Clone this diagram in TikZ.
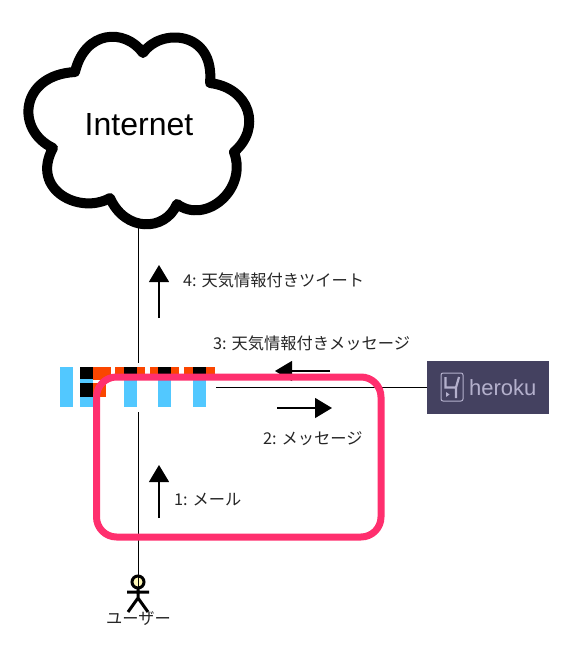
\documentclass[tikz,border=0pt]{standalone}
\usepackage{fontspec}
\setmainfont{Liberation Sans}
\newfontfamily\jpfont{Noto Sans CJK JP}
\usetikzlibrary{arrows.meta}
\definecolor{barblue}{HTML}{52C8FF}
\definecolor{barorange}{HTML}{FA4600}
\definecolor{framepink}{HTML}{FF2F6E}
\definecolor{herokubg}{HTML}{444160}
\definecolor{herokufg}{HTML}{B4B0CC}
\definecolor{headfill}{HTML}{FFF8B8}
\tikzset{
  msg/.style={font=\jpfont\fontsize{16.25}{18}\selectfont,inner sep=0pt,text=black!85},
  flow/.style={-{Triangle[width=20pt,length=17pt]},line width=1.2pt},
  wire/.style={line width=1pt,black}
}
\begin{document}
\begin{tikzpicture}[x=1pt,y=-1pt]
  \useasboundingbox (0,0) rectangle (575,647);
  % 雲
  \draw[line width=10pt,fill=white,line join=round]
    (143,53) .. controls (160,28) and (215,30) .. (210,83)
    .. controls (250,88) and (262,128) .. (234,152)
    .. controls (248,190) and (205,225) .. (177,204)
    .. controls (165,232) and (125,232) .. (110,198)
    .. controls (80,215) and (30,190) .. (53,148)
    .. controls (15,130) and (20,75) .. (75,72)
    .. controls (85,30) and (125,28) .. (143,53) -- cycle;
  \node[font=\fontsize{32}{36}\selectfont,inner sep=0pt,text=black] (net) at (139,125) {Internet};
  \coordinate (netbottom) at (138,226);
  % ユーザー
  \coordinate (userhead) at (138,582);
  \draw[line width=3pt] (138,588) -- (138,598) (127,592) -- (149,592)
    (128,612) -- (138,598) -- (148,612);
  \draw[line width=3pt,fill=headfill] (userhead) circle (6);
  \node[msg] (user) at (138.5,619) {ユーザー};
  % 中央のボット
  \node[fill=white,minimum width=161pt,minimum height=49pt,inner sep=0pt] (bot) at (135.5,387.5) {};
  \draw[wire] (netbottom) -- (netbottom |- bot.north);
  \draw[wire] (netbottom |- bot.south) -- ([yshift=-6pt]userhead);
  \foreach \x in {60,80,124,158,193}
    \fill[barblue] (\x,367) rectangle ++(13,40);
  \foreach \x/\w/\y/\h/\c in {80/13/367/12/black,80/13/383/14/black,
      93/18/367/13/barorange,93/13/383/14/barorange,
      115/9/367/13/barorange,124/13/367/13/black,137/8/367/13/barorange,
      150/8/367/13/barorange,158/13/367/13/black,171/8/367/13/barorange,
      184/9/367/13/barorange,193/13/367/13/black,206/9/367/13/barorange}
    \fill[\c] (\x,\y) rectangle ++(\w,\h);
  % heroku
  \node[fill=herokubg,minimum width=122pt,minimum height=53pt,inner sep=0pt] (heroku) at (488,387.5) {};
  \draw[herokufg,line width=1pt,rounded corners=2pt] (441,373) rectangle (463,401);
  \draw[herokufg,line width=2.2pt] (445.5,377) -- (445.5,387.5) -- (456,387.5) -- (456,398)
    (459,377) -- (456,387.5);
  \fill[herokufg] (446,392) -- (446,397) -- (449.5,394.5) -- cycle;
  \node[font=\fontsize{22}{24}\selectfont,text=herokufg,inner sep=0pt,anchor=west] (herokulabel) at (469,388) {heroku};
  \draw[wire] (bot.east) -- (heroku.west);
  % 矢印
  \coordinate (up1a) at (159,518); \coordinate (up1b) at (159,465);
  \coordinate (up4a) at (159,318); \coordinate (up4b) at (159,265);
  \coordinate (side2a) at (277,408); \coordinate (side2b) at (332,408);
  \coordinate (side3a) at (330,371); \coordinate (side3b) at (275,371);
  \foreach \a/\b in {up1a/up1b,up4a/up4b,side2a/side2b,side3a/side3b}
    \draw[flow] (\a) -- (\b);
  % 枠
  \draw[framepink,line width=7pt,rounded corners=20pt] (96.5,377) rectangle (381,537);
  \node[msg,anchor=west] (lab1) at (174,500) {1: メール};
  \node[msg,anchor=west] (lab2) at (263,439) {2: メッセージ};
  \node[msg,anchor=west] (lab3) at (213,343) {3: 天気情報付きメッセージ};
  \node[msg,anchor=west] (lab4) at (183,280) {4: 天気情報付きツイート};
\end{tikzpicture}
\end{document}
